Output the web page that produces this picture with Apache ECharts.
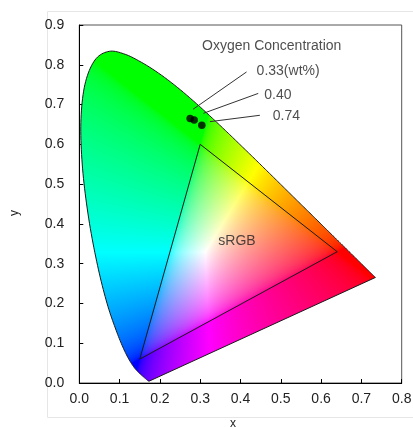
<!DOCTYPE html>
<html><head><meta charset="utf-8">
<script src="https://cdn.jsdelivr.net/npm/echarts@6/dist/echarts.min.js"></script>
<style>html,body{margin:0;padding:0;background:#fff}#c{width:413px;height:427px}</style>
</head><body><div id="c"></div>
<script>
// CIE 1931 spectral locus (380-700 nm)
const locusX = [0.1741,0.1740,0.1738,0.1736,0.1733,0.1730,0.1726,0.1721,0.1714,0.1703,0.1689,0.1669,0.1644,0.1611,0.1566,0.1510,0.1440,0.1355,0.1241,0.1096,0.0913,0.0687,0.0454,0.0235,0.0082,0.0039,0.0139,0.0389,0.0743,0.1142,0.1547,0.1929,0.2296,0.2658,0.3016,0.3373,0.3731,0.4087,0.4441,0.4788,0.5125,0.5448,0.5752,0.6029,0.6270,0.6482,0.6658,0.6801,0.6915,0.7006,0.7079,0.7140,0.7190,0.7230,0.7260,0.7283,0.7300,0.7311,0.7320,0.7327,0.7334,0.7340,0.7344,0.7346,0.7347];
const locusY = [0.0050,0.0050,0.0049,0.0049,0.0048,0.0048,0.0048,0.0048,0.0051,0.0058,0.0069,0.0086,0.0109,0.0138,0.0177,0.0227,0.0297,0.0399,0.0578,0.0868,0.1327,0.2007,0.2950,0.4127,0.5384,0.6548,0.7502,0.8120,0.8338,0.8262,0.8059,0.7816,0.7543,0.7243,0.6923,0.6589,0.6245,0.5896,0.5547,0.5202,0.4866,0.4544,0.4242,0.3965,0.3725,0.3514,0.3340,0.3197,0.3083,0.2993,0.2920,0.2859,0.2809,0.2770,0.2740,0.2717,0.2700,0.2689,0.2680,0.2673,0.2666,0.2660,0.2656,0.2654,0.2653];
// sRGB primaries
const srgbX = [0.64, 0.30, 0.15, 0.64];
const srgbY = [0.33, 0.60, 0.06, 0.33];
// samples
const sampleNames = ['0.33(wt%)', '0.40', '0.74'];
const sampleX = [0.275, 0.285, 0.304];
const sampleY = [0.665, 0.661, 0.648];
// leader lines: label end -> point end
const leaderX1 = [0.415, 0.444, 0.448];
const leaderY1 = [0.782, 0.728, 0.673];
const leaderX2 = [0.282, 0.308, 0.324];
const leaderY2 = [0.688, 0.678, 0.657];
// label anchors
const labelX = [0.440, 0.459, 0.480];
const labelY = [0.785, 0.724, 0.671];
const titleText = 'Oxygen Concentration';
const titleX = 0.3045, titleY = 0.8475;
const srgbLabel = 'sRGB';
const srgbLabelX = 0.345, srgbLabelY = 0.357;
const xMin = 0, xMax = 0.8, xStep = 0.1;
const yMin = 0, yMax = 0.9, yStep = 0.1;

const FONT = 'Liberation Sans, Arial, sans-serif';
const TXT = '#222';

function xyToRGB(x, y) {
  if (y < 1e-4) y = 1e-4;
  const X = x / y, Y = 1, Z = (1 - x - y) / y;
  let r = 3.2406 * X - 1.5372 * Y - 0.4986 * Z;
  let g = -0.9689 * X + 1.8758 * Y + 0.0415 * Z;
  let b = 0.0557 * X - 0.2040 * Y + 1.0570 * Z;
  r = Math.max(r, 0); g = Math.max(g, 0); b = Math.max(b, 0);
  const m = Math.max(r, g, b) || 1;
  r /= m; g /= m; b /= m;
  const gm = v => v <= 0.0031308 ? 12.92 * v : 1.055 * Math.pow(v, 1 / 2.4) - 0.055;
  return [gm(r) * 255, gm(g) * 255, gm(b) * 255];
}

// smooth rendering of the outline through the pixel points (Catmull-Rom)
function smoothPath(p, steps) {
  const out = [];
  const n = p.length;
  for (let i = 0; i < n - 1; i++) {
    const p0 = p[Math.max(0, i - 1)], p1 = p[i], p2 = p[i + 1], p3 = p[Math.min(n - 1, i + 2)];
    for (let s = 0; s < steps; s++) {
      const t = s / steps, t2 = t * t, t3 = t2 * t;
      const f = k => 0.5 * ((2 * p1[k]) + (-p0[k] + p2[k]) * t + (2 * p0[k] - 5 * p1[k] + 4 * p2[k] - p3[k]) * t2 + (-p0[k] + 3 * p1[k] - 3 * p2[k] + p3[k]) * t3);
      out.push([f(0), f(1)]);
    }
  }
  out.push(p[n - 1]);
  return out;
}

function renderLocus(params, api) {
  const raw = locusX.map((x, i) => api.coord([x, locusY[i]]));
  const pts = smoothPath(raw, 10);
  const W = api.getWidth(), H = api.getHeight();
  const c0 = api.coord([0, 0]), c1 = api.coord([1, 1]);
  const sx = c1[0] - c0[0], sy = c1[1] - c0[1];
  const cv = document.createElement('canvas');
  cv.width = W; cv.height = H;
  const ctx = cv.getContext('2d');
  const img = ctx.createImageData(W, H);
  let minX = Infinity, maxX = -Infinity, minY = Infinity, maxY = -Infinity;
  pts.forEach(p => { minX = Math.min(minX, p[0]); maxX = Math.max(maxX, p[0]); minY = Math.min(minY, p[1]); maxY = Math.max(maxY, p[1]); });
  for (let py = Math.max(0, Math.floor(minY) - 2); py < Math.min(H, Math.ceil(maxY) + 2); py++) {
    for (let px = Math.max(0, Math.floor(minX) - 2); px < Math.min(W, Math.ceil(maxX) + 2); px++) {
      const dx = (px + 0.5 - c0[0]) / sx;
      const dy = (py + 0.5 - c0[1]) / sy;
      const c = xyToRGB(dx, dy);
      const k = (py * W + px) * 4;
      img.data[k] = c[0]; img.data[k + 1] = c[1]; img.data[k + 2] = c[2]; img.data[k + 3] = 255;
    }
  }
  ctx.putImageData(img, 0, 0);
  return {
    type: 'polygon',
    shape: { points: pts },
    style: { fill: { image: cv, repeat: 'no-repeat' }, stroke: '#1a1a1a', lineWidth: 1 },
    silent: true
  };
}

const chart = echarts.init(document.getElementById('c'), null, { renderer: 'canvas' });
const option = {
  animation: false,
  backgroundColor: '#fff',
  textStyle: { fontFamily: FONT },
  graphic: [{
    type: 'rect', left: 45, top: 9, shape: { width: 420, height: 406 },
    style: { fill: 'none', stroke: '#e6e6e6', lineWidth: 1 }, z: -10, silent: true
  }],
  grid: { left: 79.3, right: 11.3, top: 25, bottom: 44, outerBoundsMode: 'none', containLabel: false, show: true, borderColor: '#555', borderWidth: 1, backgroundColor: 'transparent' },
  xAxis: {
    type: 'value', min: xMin, max: xMax, interval: xStep,
    name: 'x', nameLocation: 'middle', nameGap: 35,
    nameTextStyle: { color: TXT, fontSize: 12, fontFamily: FONT, padding: [0, 15, 0, 0] },
    axisLine: { show: true, onZero: false, lineStyle: { color: '#000', width: 1 } },
    axisTick: { show: true, inside: true, length: 4, lineStyle: { color: '#000' } },
    axisLabel: { color: TXT, fontSize: 14, fontFamily: FONT, margin: 9, formatter: v => v.toFixed(1) },
    splitLine: { show: false }
  },
  yAxis: {
    type: 'value', min: yMin, max: yMax, interval: yStep,
    name: 'y', nameLocation: 'middle', nameGap: 59, nameRotate: 90,
    nameTextStyle: { color: TXT, fontSize: 12, fontFamily: FONT, padding: [0, 18, 0, 0] },
    axisLine: { show: true, onZero: false, lineStyle: { color: '#000', width: 1 } },
    axisTick: { show: true, inside: true, length: 4, lineStyle: { color: '#000' } },
    axisLabel: { color: TXT, fontSize: 14, fontFamily: FONT, margin: 15, formatter: v => v.toFixed(1) },
    splitLine: { show: false }
  },
  series: [
    {
      type: 'custom', name: 'locus', coordinateSystem: 'cartesian2d',
      renderItem: renderLocus, data: [[locusX[0], locusY[0]]], z: 1, silent: true, clip: false
    },
    {
      type: 'line', name: 'sRGB', data: srgbX.map((x, i) => [x, srgbY[i]]),
      symbol: 'none', lineStyle: { color: '#1a1a1a', width: 1 }, z: 3, silent: true
    },
    {
      type: 'lines', coordinateSystem: 'cartesian2d', z: 4, silent: true,
      lineStyle: { color: '#333', width: 1, opacity: 1 },
      data: leaderX1.map((x, i) => ({ coords: [[x, leaderY1[i]], [leaderX2[i], leaderY2[i]]] }))
    },
    {
      type: 'scatter', name: 'samples', z: 5, silent: true,
      symbolSize: 7.5, itemStyle: { color: '#000' },
      data: sampleX.map((x, i) => ({ name: sampleNames[i], value: [x, sampleY[i]] }))
    },
    {
      type: 'scatter', name: 'labels', z: 6, silent: true, symbolSize: 0,
      label: { show: true, position: 'right', distance: 0, formatter: '{b}', color: TXT, fontSize: 14, fontFamily: FONT },
      data: [{ name: titleText, value: [titleX, titleY] }]
        .concat(sampleNames.map((n, i) => ({ name: n, value: [labelX[i], labelY[i]] })))
        .concat([{ name: srgbLabel, value: [srgbLabelX, srgbLabelY] }])
    }
  ]
};
chart.setOption(option);
</script>
</body></html>
